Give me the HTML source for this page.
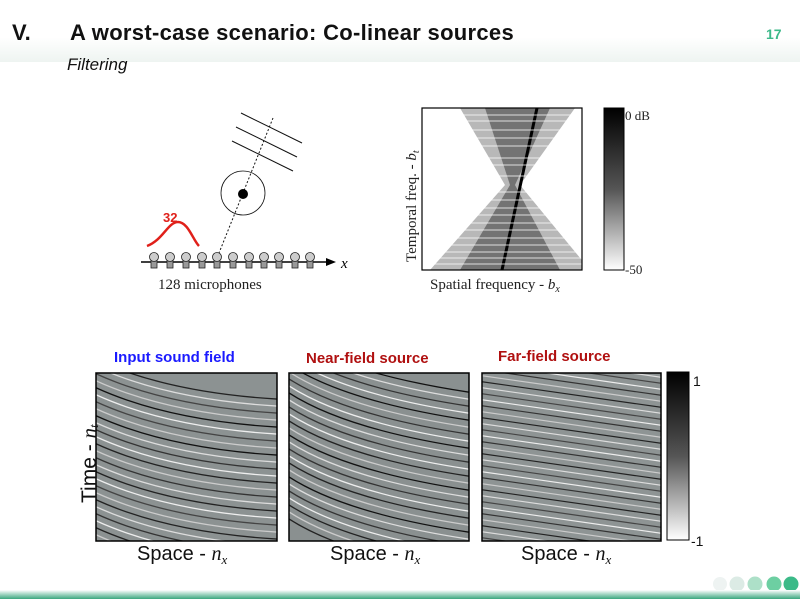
<!DOCTYPE html>
<html><head><meta charset="utf-8">
<style>
body{margin:0;width:800px;height:599px;overflow:hidden;background:#fff;font-family:"Liberation Sans",sans-serif;position:relative}
.a{position:absolute;white-space:nowrap}
.cal{font-family:"Liberation Sans",sans-serif;font-weight:bold}
</style></head><body>
<div class="a" style="left:0;top:0;width:800px;height:62px;background:linear-gradient(#fff 60%,#eef4f1)"></div>
<div class="a cal" style="left:12px;top:20px;font-size:22px;color:#111">V.</div>
<div class="a cal" style="left:70px;top:20px;font-size:22px;color:#111;letter-spacing:0.3px">A worst-case scenario: Co-linear sources</div>
<div class="a" style="left:67px;top:55px;font-size:17px;font-style:italic;color:#111">Filtering</div>
<div class="a cal" style="left:766px;top:26px;font-size:14px;color:#3cb98a">17</div>

<svg class="a" style="left:0;top:0" width="800" height="599">
 <defs>
  <linearGradient id="cb" x1="0" y1="0" x2="0" y2="1"><stop offset="0" stop-color="#000"/><stop offset="0.5" stop-color="#555"/><stop offset="1" stop-color="#fff"/></linearGradient>
  <path id="c1" d="M-10 -25 Q70 15 200 20" fill="none"/>
  <path id="c2" d="M-10 -45 Q50 0 200 20" fill="none"/>
  <clipPath id="p1"><rect x="96" y="373" width="181" height="168"/></clipPath>
  <clipPath id="p2"><rect x="289" y="373" width="180" height="168"/></clipPath>
  <clipPath id="p3"><rect x="482" y="373" width="179" height="168"/></clipPath>
  <clipPath id="sp"><rect x="422" y="108" width="160" height="162"/></clipPath>
 </defs>
 <g stroke="#111" stroke-width="1">
  <line x1="241" y1="113" x2="302" y2="143"/><line x1="236" y1="127" x2="297" y2="157"/><line x1="232" y1="141" x2="293" y2="171"/>
  <line x1="273" y1="118" x2="217" y2="258" stroke-dasharray="2,2"/>
  <circle cx="243" cy="193" r="22" fill="none" stroke-width="0.8"/>
 </g>
 <circle cx="243" cy="194" r="5" fill="#000"/>
 <path d="M147 246 C163 240,168 222,178 222 C188 222,193 240,199 246" stroke="#e0201a" stroke-width="2.5" fill="none"/>
 <text x="163" y="222" fill="#e0201a" font-weight="bold" font-size="13" font-family="Liberation Sans">32</text>
 <line x1="141" y1="262" x2="328" y2="262" stroke="#000" stroke-width="1.5"/>
 <polygon points="336,262 326,258 326,266" fill="#000"/>
 <g fill="#ccc" stroke="#222" stroke-width="0.8">
  <g id="mic"><rect x="151" y="258" width="6" height="10" fill="#999"/><circle cx="154" cy="257" r="4.5"/></g>
  <use href="#mic" x="16"/><use href="#mic" x="32"/><use href="#mic" x="48"/><use href="#mic" x="63"/><use href="#mic" x="79"/><use href="#mic" x="95"/><use href="#mic" x="110"/><use href="#mic" x="125"/><use href="#mic" x="141"/><use href="#mic" x="156"/>
 </g>
 <text x="341" y="268" font-size="15" font-style="italic" font-family="Liberation Serif">x</text>
 <text x="158" y="289" font-size="15" font-family="Liberation Serif" fill="#222">128 microphones</text>
 <rect x="422" y="108" width="160" height="162" fill="#fff"/>
 <g clip-path="url(#sp)">
  <polygon points="460,108 575,108 520,185 590,270 430,270 505,185" fill="#888" opacity="0.6"/>
  <polygon points="485,108 550,108 515,185 560,270 460,270 510,185" fill="#444" opacity="0.6"/>
  <line x1="537" y1="108" x2="502" y2="270" stroke="#000" stroke-width="3"/>
  <g stroke="#fff" stroke-width="1.2" opacity="0.6"><line x1="422" y1="115" x2="582" y2="115"/><line x1="422" y1="121" x2="582" y2="121"/><line x1="422" y1="130" x2="582" y2="130"/><line x1="422" y1="138" x2="582" y2="138"/><line x1="422" y1="146" x2="582" y2="146"/><line x1="422" y1="158" x2="582" y2="158"/><line x1="422" y1="165" x2="582" y2="165"/><line x1="422" y1="176" x2="582" y2="176"/><line x1="422" y1="192" x2="582" y2="192"/><line x1="422" y1="200" x2="582" y2="200"/><line x1="422" y1="208" x2="582" y2="208"/><line x1="422" y1="215" x2="582" y2="215"/><line x1="422" y1="223" x2="582" y2="223"/><line x1="422" y1="230" x2="582" y2="230"/><line x1="422" y1="238" x2="582" y2="238"/><line x1="422" y1="245" x2="582" y2="245"/><line x1="422" y1="252" x2="582" y2="252"/><line x1="422" y1="258" x2="582" y2="258"/><line x1="422" y1="264" x2="582" y2="264"/></g>
 </g>
 <rect x="422" y="108" width="160" height="162" fill="none" stroke="#000" stroke-width="1.2"/>
 <rect x="604" y="108" width="20" height="162" fill="url(#cb)" stroke="#000" stroke-width="1"/>
 <text x="625" y="120" font-size="13" font-family="Liberation Serif" fill="#222">0 dB</text>
 <text x="625" y="274" font-size="13" font-family="Liberation Serif" fill="#222">-50</text>
 <text x="430" y="289" font-size="15" font-family="Liberation Serif" fill="#222">Spatial frequency - <tspan font-style="italic">b</tspan><tspan font-size="10" font-style="italic" dy="3">x</tspan></text>
 <text transform="translate(416,262) rotate(-90)" font-size="15" font-family="Liberation Serif" fill="#222">Temporal freq. - <tspan font-style="italic">b</tspan><tspan font-size="10" font-style="italic" dy="3">t</tspan></text>

 <g clip-path="url(#p1)">
  <rect x="96" y="373" width="181" height="168" fill="#8c9292"/>
  <g fill="none" stroke-width="1.3" transform="translate(96,380)">
   <use href="#c1" stroke="#222" y="0"/><use href="#c1" stroke="#ddd" y="7"/><use href="#c1" stroke="#444" y="14"/><use href="#c1" stroke="#ccc" y="21"/><use href="#c1" stroke="#111" y="28"/><use href="#c1" stroke="#eee" y="35"/><use href="#c1" stroke="#444" y="42"/><use href="#c1" stroke="#ccc" y="49"/><use href="#c1" stroke="#111" y="56"/><use href="#c1" stroke="#ddd" y="63"/><use href="#c1" stroke="#333" y="70"/><use href="#c1" stroke="#eee" y="77"/><use href="#c1" stroke="#222" y="84"/><use href="#c1" stroke="#ccc" y="91"/><use href="#c1" stroke="#333" y="98"/><use href="#c1" stroke="#ddd" y="105"/><use href="#c1" stroke="#222" y="112"/><use href="#c1" stroke="#eee" y="119"/><use href="#c1" stroke="#444" y="126"/><use href="#c1" stroke="#ccc" y="133"/><use href="#c1" stroke="#222" y="140"/><use href="#c1" stroke="#ddd" y="147"/><use href="#c1" stroke="#333" y="154"/><use href="#c1" stroke="#eee" y="161"/><use href="#c1" stroke="#222" y="168"/><use href="#c1" stroke="#ccc" y="175"/>
  </g>
 </g>
 <rect x="96" y="373" width="181" height="168" fill="none" stroke="#000" stroke-width="1.5"/>
 <g clip-path="url(#p2)">
  <rect x="289" y="373" width="180" height="168" fill="#8a9090"/>
  <g fill="none" stroke-width="1.3" transform="translate(289,385)">
   <use href="#c2" stroke="#111" y="-10"/><use href="#c2" stroke="#ddd" y="-3"/><use href="#c2" stroke="#333" y="4"/><use href="#c2" stroke="#eee" y="11"/><use href="#c2" stroke="#111" y="18"/><use href="#c2" stroke="#ccc" y="25"/><use href="#c2" stroke="#333" y="32"/><use href="#c2" stroke="#eee" y="39"/><use href="#c2" stroke="#111" y="46"/><use href="#c2" stroke="#ddd" y="53"/><use href="#c2" stroke="#333" y="60"/><use href="#c2" stroke="#eee" y="67"/><use href="#c2" stroke="#222" y="74"/><use href="#c2" stroke="#ccc" y="81"/><use href="#c2" stroke="#111" y="88"/><use href="#c2" stroke="#ddd" y="95"/><use href="#c2" stroke="#333" y="102"/><use href="#c2" stroke="#eee" y="109"/><use href="#c2" stroke="#222" y="116"/><use href="#c2" stroke="#ccc" y="123"/><use href="#c2" stroke="#111" y="130"/><use href="#c2" stroke="#ddd" y="137"/><use href="#c2" stroke="#333" y="144"/><use href="#c2" stroke="#eee" y="151"/><use href="#c2" stroke="#222" y="158"/><use href="#c2" stroke="#ccc" y="165"/><use href="#c2" stroke="#222" y="172"/>
  </g>
 </g>
 <rect x="289" y="373" width="180" height="168" fill="none" stroke="#000" stroke-width="1.5"/>
 <g clip-path="url(#p3)">
  <rect x="482" y="373" width="179" height="168" fill="#8e9494"/>
  <g stroke-width="1.2">
   <g id="fl"><line x1="470" y1="380" x2="680" y2="410" stroke="#222"/><line x1="470" y1="386" x2="680" y2="416" stroke="#ddd"/><line x1="470" y1="392" x2="680" y2="422" stroke="#444"/><line x1="470" y1="398" x2="680" y2="428" stroke="#eee"/><line x1="470" y1="404" x2="680" y2="434" stroke="#333"/><line x1="470" y1="410" x2="680" y2="440" stroke="#ccc"/></g>
   <use href="#fl" y="-36"/><use href="#fl" y="36"/><use href="#fl" y="72"/><use href="#fl" y="108"/><use href="#fl" y="144"/>
  </g>
 </g>
 <rect x="482" y="373" width="179" height="168" fill="none" stroke="#000" stroke-width="1.5"/>
 <rect x="667" y="372" width="22" height="168" fill="url(#cb)" stroke="#000" stroke-width="1"/>
 <text x="693" y="386" font-size="14" fill="#111">1</text>
 <text x="691" y="546" font-size="14" fill="#111">-1</text>
 <text transform="translate(96,503) rotate(-90)" font-size="21" fill="#111">Time - <tspan font-family="Liberation Serif" font-style="italic">n</tspan><tspan font-family="Liberation Serif" font-style="italic" font-size="13" dy="2">t</tspan></text>
 <text x="137" y="560" font-size="20" fill="#111">Space - <tspan font-family="Liberation Serif" font-style="italic">n</tspan><tspan font-family="Liberation Serif" font-style="italic" font-size="13" dy="4">x</tspan></text>
 <text x="330" y="560" font-size="20" fill="#111">Space - <tspan font-family="Liberation Serif" font-style="italic">n</tspan><tspan font-family="Liberation Serif" font-style="italic" font-size="13" dy="4">x</tspan></text>
 <text x="521" y="560" font-size="20" fill="#111">Space - <tspan font-family="Liberation Serif" font-style="italic">n</tspan><tspan font-family="Liberation Serif" font-style="italic" font-size="13" dy="4">x</tspan></text>
 <text x="114" y="362" font-size="15" font-weight="bold" fill="#1a1aff">Input sound field</text>
 <text x="306" y="363" font-size="15" font-weight="bold" fill="#b01010">Near-field source</text>
 <text x="498" y="361" font-size="15" font-weight="bold" fill="#b01010">Far-field source</text>
 <circle cx="720" cy="584" r="7" fill="#eef3f2"/><circle cx="737" cy="584" r="7.5" fill="#dcebe5"/><circle cx="755" cy="584" r="7.5" fill="#ade0c8"/><circle cx="774" cy="584" r="7.5" fill="#6dcfa2"/><circle cx="791" cy="584" r="7.5" fill="#3bba88"/>
 <defs><linearGradient id="fb" x1="0" y1="0" x2="0" y2="1"><stop offset="0" stop-color="#fff"/><stop offset="1" stop-color="#3aa77e"/></linearGradient></defs>
 <rect x="0" y="590" width="800" height="9" fill="url(#fb)"/>
</svg>
</body></html>
